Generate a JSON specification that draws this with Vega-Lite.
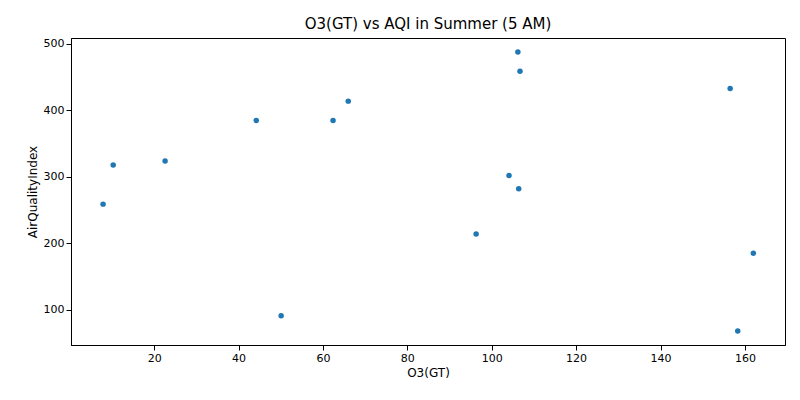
{
"$schema":"https://vega.github.io/schema/vega-lite/v6.json",
"width":800,"height":400,
"autosize":{"type":"fit","contains":"padding"},
"padding":{"left":26,"right":15,"top":17,"bottom":22},
"title":{"text":"O3(GT) vs AQI in Summer (5 AM)","fontSize":15,"font":"DejaVu Sans","fontWeight":"normal","color":"black","offset":6},
"config":{"view":{"stroke":"black","strokeWidth":1},"axis":{"grid":false,"labelFont":"DejaVu Sans","titleFont":"DejaVu Sans","labelFontSize":11,"titleFontSize":12,"titleFontWeight":"normal","labelColor":"black","titleColor":"black","domainColor":"black","tickColor":"black"}},
"data":{"values":[
{"o3":106.2,"aqi":488},{"o3":106.7,"aqi":459},{"o3":156.5,"aqi":433},{"o3":66,"aqi":414},
{"o3":44.2,"aqi":385},{"o3":62.4,"aqi":385},{"o3":22.6,"aqi":324},{"o3":10.3,"aqi":318},
{"o3":7.9,"aqi":259},{"o3":104.1,"aqi":302},{"o3":106.4,"aqi":282},{"o3":96.3,"aqi":214},
{"o3":50.1,"aqi":91},{"o3":162,"aqi":185},{"o3":158.3,"aqi":68}]},
"mark":{"type":"point","filled":true,"size":30,"color":"#1f77b4","opacity":1},
"encoding":{
"x":{"field":"o3","type":"quantitative","title":"O3(GT)","scale":{"domain":[0.3,169.5],"nice":false,"zero":false},"axis":{"values":[20,40,60,80,100,120,140,160]}},
"y":{"field":"aqi","type":"quantitative","title":"AirQualityIndex","scale":{"domain":[47,509],"nice":false,"zero":false},"axis":{"values":[100,200,300,400,500]}}
}
}
